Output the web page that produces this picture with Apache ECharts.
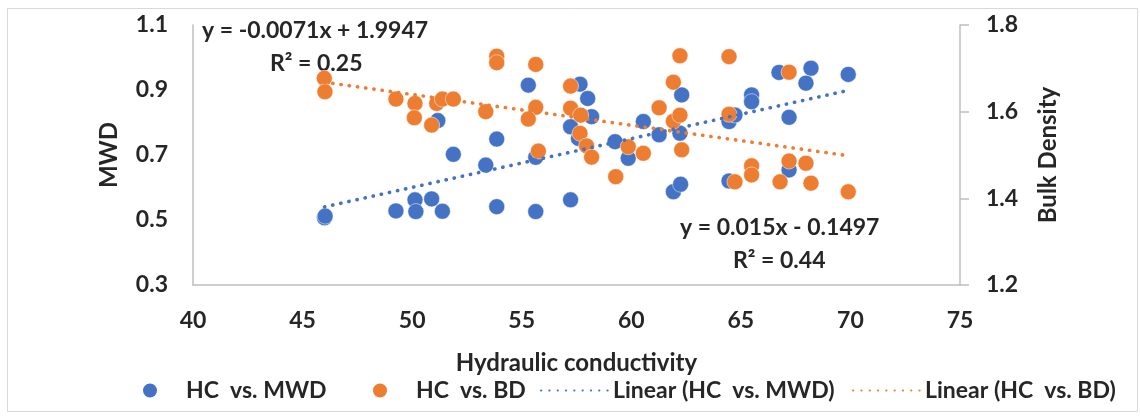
<!DOCTYPE html>
<html>
<head>
<meta charset="utf-8">
<script src="https://cdn.jsdelivr.net/npm/echarts@6/dist/echarts.min.js"></script>
<style>
html,body{margin:0;padding:0;background:#fff;}
#chart{width:1140px;height:419px;}
</style>
</head>
<body>
<div id="chart"></div>
<script>
// ---- data ----
var hcMwd = [
  [46.0,0.507],[46.03,0.512],[49.26,0.528],[50.13,0.562],[50.17,0.526],[50.89,0.565],[51.38,0.527],
  [51.88,0.702],[51.17,0.806],[53.36,0.669],[53.86,0.749],[53.86,0.541],[55.64,0.526],[55.64,0.693],
  [55.30,0.915],[57.23,0.562],[57.23,0.787],[57.66,0.918],[57.59,0.751],[58.01,0.874],[58.19,0.818],
  [59.26,0.741],[59.86,0.690],[60.55,0.803],[61.27,0.762],[61.92,0.587],[62.25,0.610],[62.30,0.885],
  [62.22,0.767],[64.46,0.803],[64.73,0.823],[64.46,0.620],[65.49,0.885],[65.49,0.864],[66.74,0.954],
  [67.20,0.816],[67.20,0.654],[68.20,0.967],[67.97,0.921],[69.90,0.948]
];
var hcBd = [
  [45.99,1.677],[46.02,1.646],[49.26,1.629],[50.13,1.619],[50.10,1.586],[50.89,1.569],[51.12,1.619],
  [51.38,1.629],[51.88,1.629],[53.36,1.600],[53.86,1.728],[53.86,1.713],[55.64,1.709],[55.64,1.610],
  [55.30,1.583],[55.76,1.509],[57.23,1.659],[57.23,1.608],[57.69,1.592],[57.66,1.550],[57.96,1.521],
  [58.19,1.495],[59.29,1.450],[59.86,1.519],[60.55,1.504],[61.27,1.609],[61.92,1.668],[61.92,1.578],
  [62.22,1.592],[62.22,1.729],[62.30,1.512],[64.46,1.727],[64.46,1.594],[64.73,1.438],[65.49,1.475],
  [65.49,1.454],[66.79,1.438],[67.20,1.691],[67.20,1.486],[67.97,1.481],[68.20,1.435],[69.90,1.415]
];
// trendline coefficients [slope, intercept] and x-range
var trendMwd = [0.015, -0.1497];
var trendBd = [-0.0071, 1.9947];
var trendRange = [46, 69.9];
var eqMwd = ['y = 0.015x - 0.1497', 'R² = 0.44'];
var eqBd = ['y = -0.0071x + 1.9947', 'R² = 0.25'];
var seriesNames = ['HC  vs. MWD', 'HC  vs. BD', 'Linear (HC  vs. MWD)', 'Linear (HC  vs. BD)'];
var xTicks = [40, 75, 5];
var mwdTicks = [0.3, 1.1, 0.2];
var bdTicks = [1.2, 1.8, 0.2];

function trend(c){ return trendRange.map(function(x){ return [x, c[0]*x + c[1]]; }); }

var FONT = 'Lato';
var TXT = '#262626';
var BLUE = '#4472C4', ORANGE = '#ED7D31';
var chart = echarts.init(document.getElementById('chart'));
var lblStyle = {color: TXT, fontFamily: FONT, fontWeight: 'bold', fontSize: 23};
var nameStyle = {color: TXT, fontFamily: FONT, fontWeight: 'bold', fontSize: 24};
var eqFont = 'bold 23px Lato';
var DOT = {color: null, width: 3.6, type: [0.3, 8], cap: 'round'};
function legendAt(name, left, isLine, pad){
  var l = {data: [name], left: left, top: 374, itemGap: 0,
    textStyle: {color: TXT, fontFamily: FONT, fontWeight: 'bold', fontSize: 23, padding: [0,0,0,pad]}};
  if (isLine) { l.itemWidth = 67; l.itemHeight = 16; l.itemStyle = {opacity: 0}; }
  else { l.icon = 'circle'; l.itemWidth = 16; l.itemHeight = 16; }
  return l;
}
chart.setOption({
  animation: false,
  grid: {left: 193, right: 180, top: 25, bottom: 134},
  graphic: [
    {type:'rect', shape:{x:7.5,y:8.5,width:1130,height:403}, style:{fill:'none', stroke:'#d9d9d9', lineWidth:1}, silent:true, z:-1},
    {type:'text', x:202, y:31, style:{text:eqBd[0], fill:TXT, font:eqFont, verticalAlign:'middle'}},
    {type:'text', x:270, y:64, style:{text:eqBd[1], fill:TXT, font:eqFont, verticalAlign:'middle'}},
    {type:'text', x:680, y:228, style:{text:eqMwd[0], fill:TXT, font:eqFont, verticalAlign:'middle'}},
    {type:'text', x:733, y:261, style:{text:eqMwd[1], fill:TXT, font:eqFont, verticalAlign:'middle'}}
  ],
  legend: [
    legendAt(seriesNames[0], 136, false, 23),
    legendAt(seriesNames[1], 366, false, 23),
    legendAt(seriesNames[2], 535, true, 0),
    legendAt(seriesNames[3], 847, true, 0)
  ],
  xAxis: {
    type: 'value', min: xTicks[0], max: xTicks[1], interval: xTicks[2],
    name: 'Hydraulic conductivity', nameLocation: 'middle', nameGap: 66,
    nameTextStyle: nameStyle,
    axisLine: {show: true, onZero: false, lineStyle: {color: '#bfbfbf', width: 1.5}},
    axisTick: {show: false},
    splitLine: {show: false},
    axisLabel: Object.assign({margin: 24}, lblStyle)
  },
  yAxis: [
    {type: 'value', min: mwdTicks[0], max: mwdTicks[1], interval: mwdTicks[2], position: 'left',
     name: 'MWD', nameLocation: 'middle', nameGap: 72, nameTextStyle: nameStyle,
     axisLine: {show: true, lineStyle: {color: '#bfbfbf', width: 1.5}},
     axisTick: {show: false}, splitLine: {show: false},
     axisLabel: Object.assign({margin: 25, formatter: function(v){return v.toFixed(1);}}, lblStyle)},
    {type: 'value', min: bdTicks[0], max: bdTicks[1], interval: bdTicks[2], position: 'right',
     name: 'Bulk Density', nameLocation: 'middle', nameGap: 76, nameTextStyle: nameStyle,
     axisLine: {show: true, lineStyle: {color: '#bfbfbf', width: 1.5}},
     axisTick: {show: true, length: 9, lineStyle: {color: '#bfbfbf', width: 1.5}}, splitLine: {show: false},
     axisLabel: Object.assign({margin: 26, formatter: function(v){return v.toFixed(1);}}, lblStyle)}
  ],
  series: [
    {name: seriesNames[0], type: 'scatter', yAxisIndex: 0, data: hcMwd, symbolSize: 16,
     itemStyle: {color: BLUE, opacity: 1, borderColor: '#fff', borderWidth: 0.5}},
    {name: seriesNames[1], type: 'scatter', yAxisIndex: 1, data: hcBd, symbolSize: 16,
     itemStyle: {color: ORANGE, opacity: 1, borderColor: '#fff', borderWidth: 0.5}},
    {name: seriesNames[2], type: 'line', yAxisIndex: 0, data: trend(trendMwd), symbol: 'none',
     lineStyle: Object.assign({}, DOT, {color: BLUE}), itemStyle:{color: BLUE}, z: 3},
    {name: seriesNames[3], type: 'line', yAxisIndex: 1, data: trend(trendBd), symbol: 'none',
     lineStyle: Object.assign({}, DOT, {color: ORANGE}), itemStyle:{color: ORANGE}, z: 3}
  ]
});
</script>
</body>
</html>
